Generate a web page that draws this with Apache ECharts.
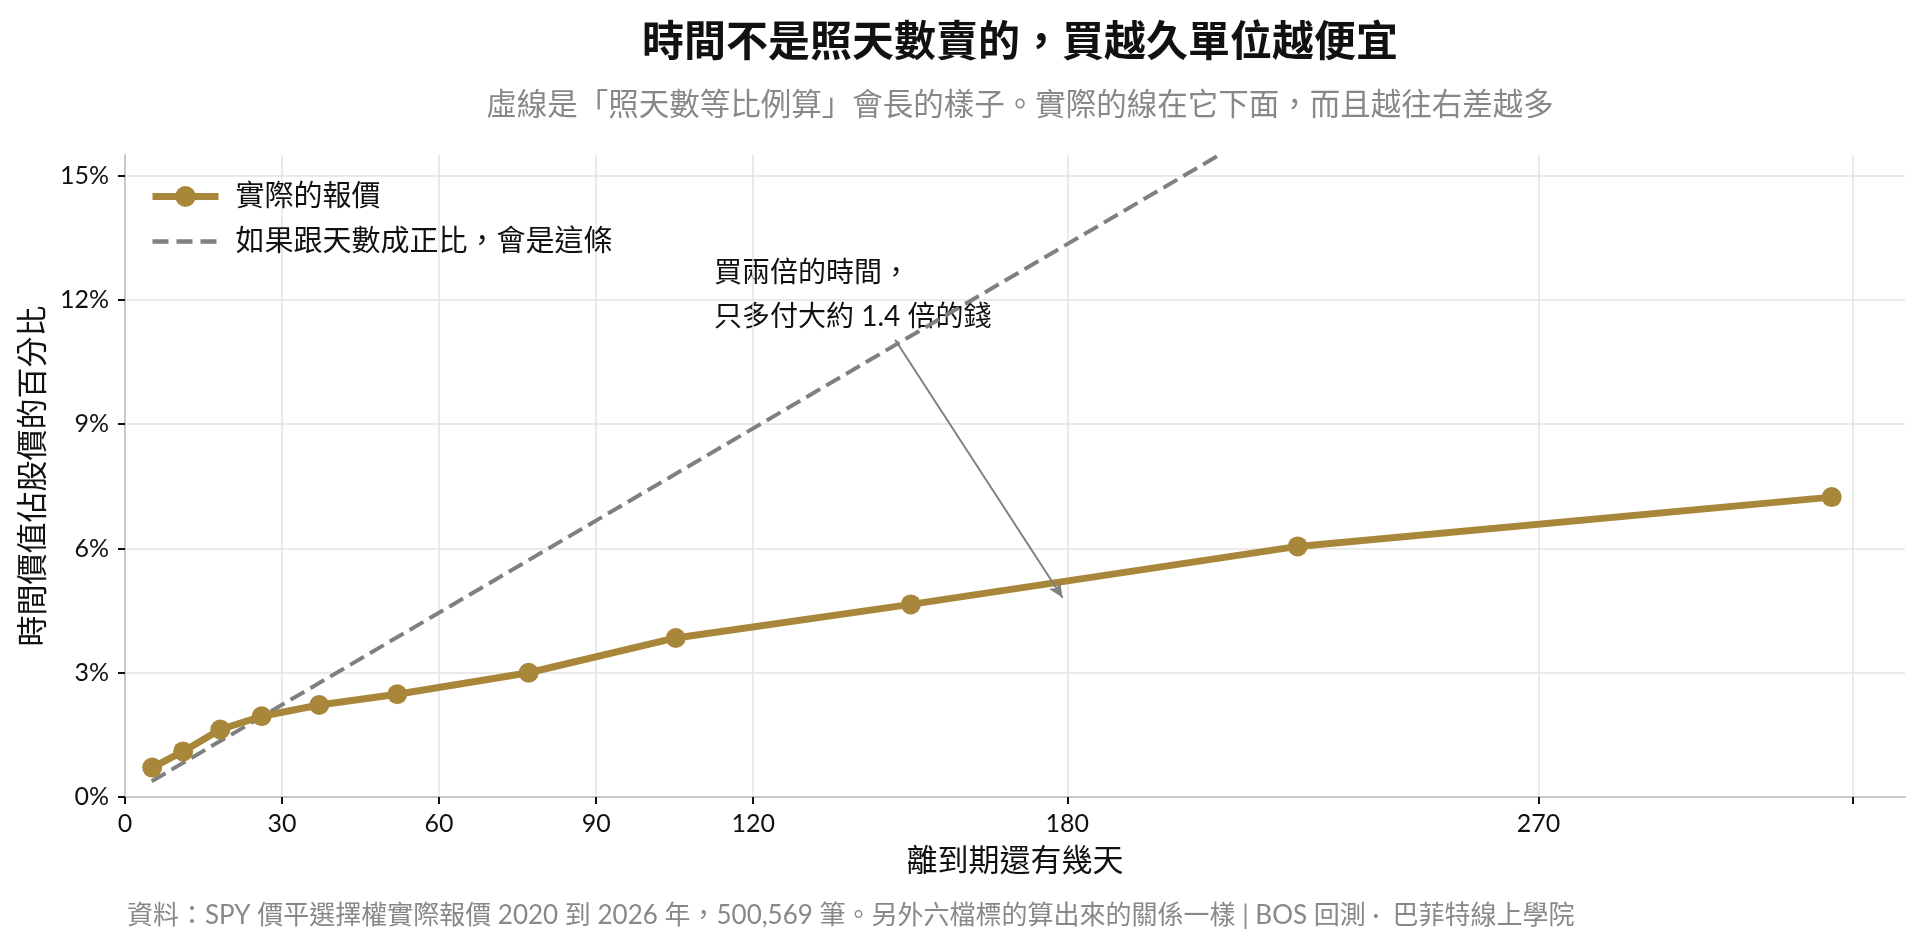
<!DOCTYPE html>
<html>
  <head>
    <meta charset="utf-8" />
    <script src="https://cdn.jsdelivr.net/npm/echarts@6.0.0/dist/echarts.min.js"></script>
    <style>
      html, body { margin: 0; padding: 0; background: #fff; }
      #main { width: 1920px; height: 945px; }
    </style>
  </head>

  <body>
    <div id="main"></div>
    <script type="text/javascript">
      // days to expiry and time value as % of stock price
      const days = [5.2, 11.1, 18.2, 26.1, 37.1, 52.0, 77.1, 105.2, 150.1, 224.0, 326.0];
      const timeValuePct = [0.71, 1.10, 1.63, 1.95, 2.22, 2.48, 3.00, 3.84, 4.65, 6.05, 7.24];

      // proportional reference line (two ends, clipped at the top)
      const refDays = [5.1, 209];
      const refPct = [0.38, 15.5];

      const xTickValues = [0, 30, 60, 90, 120, 180, 270, 330];
      const xLabelValues = [0, 30, 60, 90, 120, 180, 270];
      const yTickValues = [0, 3, 6, 9, 12, 15];

      const seriesNames = ['實際的報價', '如果跟天數成正比，會是這條'];

      const font = "Lato, 'Noto Sans CJK TC', sans-serif";
      const gold = '#A8873B';
      const grey = '#808080';

      var myChart = echarts.init(document.getElementById('main'));

      var option = {
        animation: false,
        textStyle: { fontFamily: font },
        title: {
          text: '時間不是照天數賣的，買越久單位越便宜',
          subtext: '虛線是「照天數等比例算」會長的樣子。實際的線在它下面，而且越往右差越多',
          left: 1015,
          textAlign: 'center',
          top: 16,
          itemGap: 27,
          textStyle: { fontSize: 42, fontWeight: 'bold', color: '#111', fontFamily: font },
          subtextStyle: { fontSize: 30.5, color: '#888', fontFamily: font }
        },
        legend: {
          orient: 'vertical',
          left: 149,
          top: 182,
          padding: 0,
          itemWidth: 66,
          itemHeight: 26,
          itemGap: 16,
          textStyle: { fontSize: 29, color: '#111', padding: [0, 0, 0, 12] },
          data: [
            { name: seriesNames[0], lineStyle: { width: 7, color: gold }, itemStyle: { color: gold } },
            { name: seriesNames[1], lineStyle: { width: 4.5, color: grey, type: [16, 8] }, itemStyle: { opacity: 0 } }
          ]
        },
        grid: { left: 125, right: 15, top: 155, bottom: 148 },
        xAxis: {
          type: 'value',
          min: 0,
          max: 340,
          name: '離到期還有幾天',
          nameLocation: 'middle',
          nameGap: 49,
          nameTextStyle: { fontSize: 31, color: '#111' },
          axisLine: { lineStyle: { color: '#c8c8c8', width: 2 } },
          axisTick: { show: true, length: 7, lineStyle: { color: '#111', width: 2 }, customValues: xTickValues },
          axisLabel: { fontSize: 25, color: '#111', margin: 14, customValues: xLabelValues },
          splitLine: { show: true, lineStyle: { color: '#e3e3e3', width: 1.5 } }
        },
        yAxis: {
          type: 'value',
          min: 0,
          max: 15.5,
          name: '時間價值佔股價的百分比',
          nameLocation: 'middle',
          nameGap: 77,
          nameTextStyle: { fontSize: 31, color: '#111' },
          axisLine: { show: true, lineStyle: { color: '#c8c8c8', width: 2 } },
          axisTick: { show: true, length: 7, lineStyle: { color: '#111', width: 2 }, customValues: yTickValues },
          axisLabel: { fontSize: 25, color: '#111', margin: 16, formatter: '{value}%', customValues: yTickValues },
          splitLine: { show: true, lineStyle: { color: '#e3e3e3', width: 1.5 } }
        },
        graphic: [
          {
            type: 'text',
            left: 714,
            top: 251,
            style: {
              text: '買兩倍的時間，\n只多付大約 1.4 倍的錢',
              fontSize: 28,
              lineHeight: 44,
              fill: '#111',
              fontFamily: font
            }
          },
          {
            type: 'text',
            left: 127,
            top: 903,
            style: {
              text: '資料：SPY 價平選擇權實際報價 2020 到 2026 年，500,569 筆。另外六檔標的算出來的關係一樣 | BOS 回測 ·  巴菲特線上學院',
              fontSize: 26,
              fill: '#888',
              fontFamily: font
            }
          }
        ],
        series: [
          {
            name: seriesNames[1],
            type: 'line',
            data: refDays.map((d, i) => [d, refPct[i]]),
            symbol: 'none',
            clip: true,
            z: 2,
            lineStyle: { color: grey, width: 4, type: [16, 7] },
            itemStyle: { color: grey }
          },
          {
            name: seriesNames[0],
            type: 'line',
            data: days.map((d, i) => [d, timeValuePct[i]]),
            symbol: 'circle',
            symbolSize: 20,
            z: 3,
            lineStyle: { color: gold, width: 7 },
            itemStyle: { color: gold },
            markLine: {
              silent: true,
              symbol: ['none', 'arrow'],
              symbolSize: [10, 15],
              label: { show: false },
              lineStyle: { color: grey, width: 2, type: 'solid' },
              data: [[{ coord: [147.1, 11.04] }, { coord: [179.1, 4.81] }]]
            }
          }
        ]
      };

      myChart.setOption(option);
    </script>
  </body>

</html>
